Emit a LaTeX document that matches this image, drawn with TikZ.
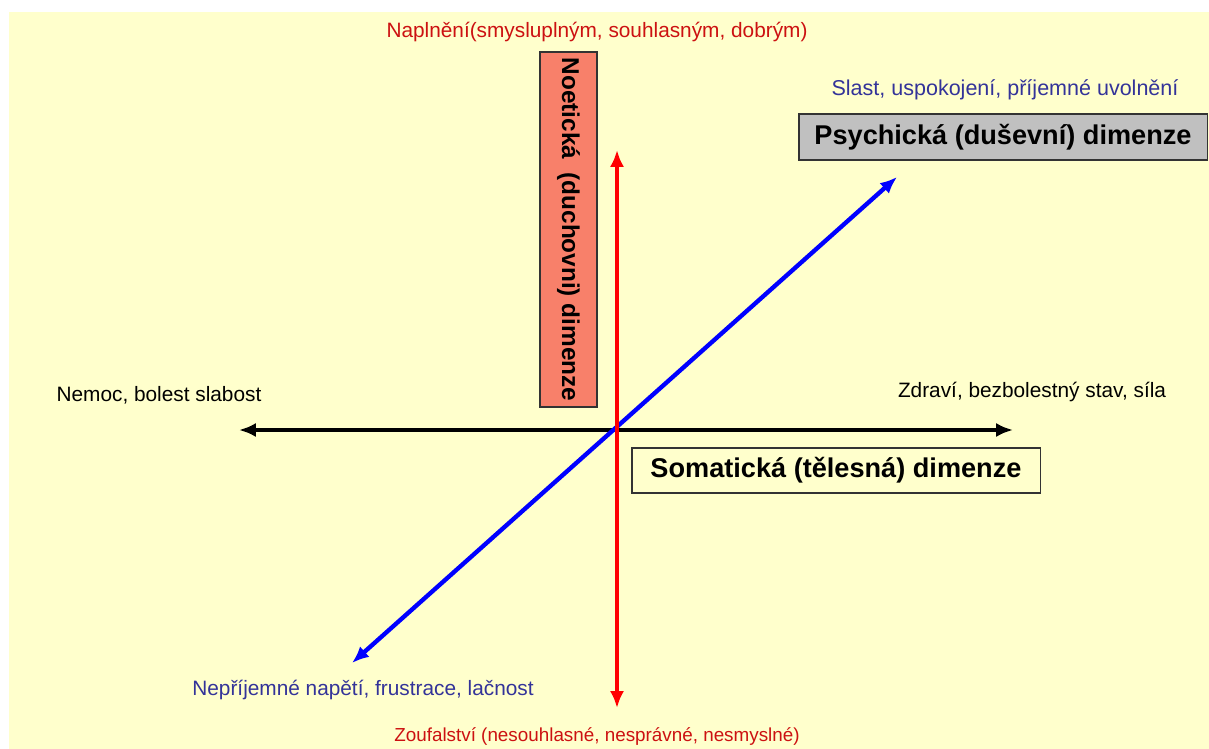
\documentclass[tikz,border=0pt]{standalone}
\usepackage{fontspec}
\setmainfont{Liberation Sans}
\usetikzlibrary{arrows.meta,positioning}

\definecolor{bgyellow}{HTML}{FFFFCC}
\definecolor{noeticfill}{HTML}{F8806A}
\definecolor{psyfill}{HTML}{C0C0C0}
\definecolor{txtred}{HTML}{CC1111}
\definecolor{txtblue}{HTML}{333399}
\definecolor{axisred}{HTML}{FF0000}
\definecolor{axisblue}{HTML}{0000FF}

\tikzset{
  pole/.style={font=\fontsize{14.8}{17}\selectfont, inner sep=0pt},
  dimbox/.style={draw=black!80, line width=0.8pt, font=\fontsize{19.3}{22}\selectfont\bfseries, inner sep=0pt},
  axis/.style={line width=2.9pt, {Latex[length=12pt,width=10pt]}-{Latex[length=12pt,width=10pt]}}
}

\begin{document}
\begin{tikzpicture}[x=0.025cm, y=-0.025cm]
    \useasboundingbox (0,0) rectangle (1209,749);
    \fill[bgyellow] (9,12) rectangle (1209,749);

    % ends of the three axes
    \coordinate (o) at (617,430);
    \coordinate (n) at (617,150);
    \coordinate (s) at (617,708);
    \coordinate (w) at (239,430);
    \coordinate (e) at (1013,430);
    \coordinate (ne) at (897,177);
    \coordinate (sw) at (352,663);

    % dimension boxes
    \node[dimbox, fill=noeticfill, rotate=-90, minimum width=8.875cm, minimum height=1.425cm, font=\fontsize{17.3}{20}\selectfont\bfseries] (noetic) at (568.5,229.5) {Noetická\ \ (duchovni)\ dimenze};
    \node[dimbox, fill=psyfill, minimum width=10.2cm, minimum height=1.15cm] (psychic) at (1003,137) {Psychická (duševní) dimenze};
    \node[dimbox, fill=bgyellow, minimum width=10.2cm, minimum height=1.125cm] (somatic) at (836,470.5) {Somatická (tělesná) dimenze};

    % axes
    \draw[axis, black] (w) -- (e);
    \draw[axis, axisblue, line width=3.1pt] (sw) -- (ne);
    \draw[axis, axisred] (s) -- (n);

    % poles
    \node[pole, txtred] (fulfil) at (597,32) {Naplnění(smysluplným, souhlasným, dobrým)};
    \node[pole, txtred, font=\fontsize{13.4}{16}\selectfont] (despair) at (597,737) {Zoufalství (nesouhlasné, nesprávné, nesmyslné)};
    \node[pole, txtblue, font=\fontsize{15.3}{18}\selectfont] (pleasure) at (1005,90) {Slast, uspokojení, příjemné uvolnění};
    \node[pole, txtblue] (tension) at (363,690) {Nepříjemné napětí, frustrace, lačnost};
    \node[pole] (health) at (1032,392) {Zdraví, bezbolestný stav, síla};
    \node[pole] (illness) at (159,395) {Nemoc, bolest slabost};
\end{tikzpicture}
\end{document}
